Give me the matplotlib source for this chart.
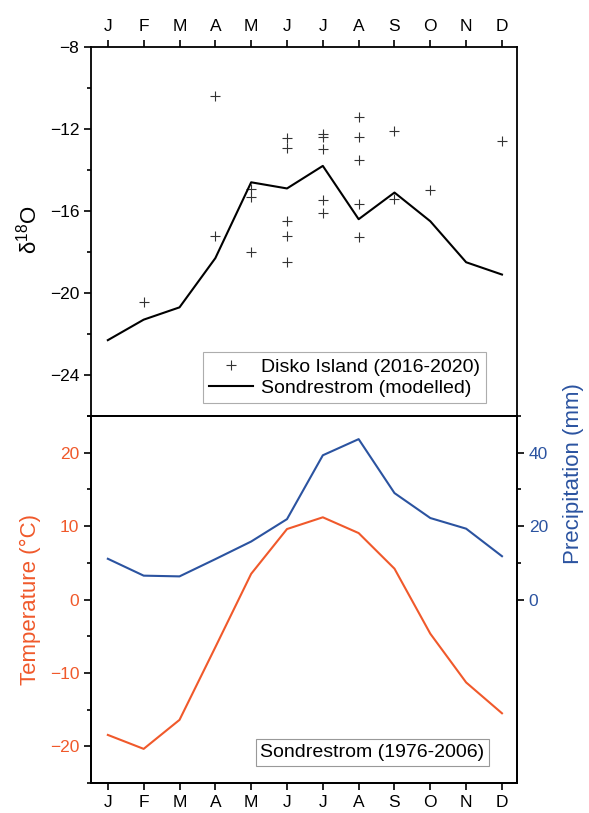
import matplotlib
matplotlib.use("Agg")
import matplotlib.pyplot as plt
from matplotlib.ticker import FixedLocator, MultipleLocator

plt.rcParams.update({
    "font.family": ["Liberation Sans", "DejaVu Sans"],
    "font.size": 12.5,
    "axes.linewidth": 1.3,
    "xtick.direction": "out",
    "ytick.direction": "out",
    "xtick.major.size": 5,
    "ytick.major.size": 5,
    "xtick.minor.size": 3,
    "ytick.minor.size": 3,
    "xtick.major.width": 1.2,
    "ytick.major.width": 1.2,
    "ytick.minor.width": 1.2,
})

# ---- data ----
months = ["J", "F", "M", "A", "M", "J", "J", "A", "S", "O", "N", "D"]
month_num = list(range(1, 13))

d18o_model = [-22.3, -21.3, -20.7, -18.3, -14.6, -14.9, -13.8, -16.4, -15.1, -16.5, -18.5, -19.1]

disko_month = [2, 4, 4, 5, 5, 5, 6, 6, 6, 6, 6, 7, 7, 7, 7, 7,
               8, 8, 8, 8, 8, 9, 9, 10, 12]
disko_d18o = [-20.45, -10.4, -17.2, -14.95, -15.3, -18.0,
              -12.45, -12.95, -16.5, -17.2, -18.5,
              -12.25, -12.4, -13.0, -15.45, -16.1,
              -11.4, -12.4, -13.5, -15.65, -17.25,
              -12.1, -15.4, -15.0, -12.6]

temperature = [-18.45, -20.35, -16.4, -6.5, 3.5, 9.6, 11.2, 9.05, 4.2, -4.66, -11.3, -15.5]
precip = [11.1, 6.5, 6.3, 11.0, 15.8, 21.9, 39.3, 43.7, 29.0, 22.2, 19.3, 11.8]

TEMP_C = "#f0592b"
PREC_C = "#2b53a0"

fig = plt.figure(figsize=(5.89, 8.13), dpi=100)
ax1 = fig.add_axes([0.1545, 0.4883, 0.7233, 0.4539])
ax2 = fig.add_axes([0.1545, 0.0369, 0.7233, 0.4514])
ax3 = ax2.twinx()

# ---- top panel: d18O ----
ax1.plot(disko_month, disko_d18o, "+", color="#333333", ms=7.5, mew=0.8,
         label="Disko Island (2016-2020)")
ax1.plot(month_num, d18o_model, color="black", lw=1.5,
         label="Sondrestrom (modelled)")
ax1.set_xlim(0.53, 12.42)
ax1.set_ylim(-26, -8)
ax1.xaxis.tick_top()
ax1.set_xticks(month_num)
ax1.set_xticklabels(months)
ax1.set_yticks([-24, -20, -16, -12, -8])
ax1.yaxis.set_minor_locator(MultipleLocator(2))
ax1.tick_params(axis="x", pad=4)

leg = ax1.legend(loc="lower right", bbox_to_anchor=(0.825, 0.5043),
                 bbox_transform=fig.transFigure, fontsize=14, frameon=True,
                 fancybox=False, edgecolor="#999999", handlelength=2.3,
                 handletextpad=0.4, borderpad=0.3, labelspacing=0.2,
                 borderaxespad=0)
leg.get_frame().set_linewidth(0.8)

# ---- bottom panel: temperature and precipitation ----
ax2.plot(month_num, temperature, color=TEMP_C, lw=1.5)
ax3.plot(month_num, precip, color=PREC_C, lw=1.5)
ax2.set_xlim(0.53, 12.42)
ax2.set_ylim(-25, 25)
ax3.set_ylim(-50, 50)
ax2.set_xticks(month_num)
ax2.set_xticklabels(months)
ax2.set_yticks([-20, -10, 0, 10, 20])
ax2.yaxis.set_minor_locator(MultipleLocator(5))
ax2.tick_params(axis="y", labelcolor=TEMP_C)
ax3.set_yticks([0, 20, 40])
ax3.yaxis.set_minor_locator(FixedLocator([10, 30, 50]))
ax3.tick_params(axis="y", labelcolor=PREC_C)

ax2.text(0.6324, 0.0744, "Sondrestrom (1976-2006)", transform=fig.transFigure,
         ha="center", va="center", fontsize=14,
         bbox=dict(boxstyle="square,pad=0.25", fc="white", ec="#999999", lw=0.8))

# axis labels
fig.text(0.048, 0.717, r"δ$^{\mathregular{18}}$O", rotation=90,
         ha="center", va="center", fontsize=16)
fig.text(0.051, 0.263, "Temperature (°C)", rotation=90, color=TEMP_C,
         ha="center", va="center", fontsize=16)
fig.text(0.973, 0.417, "Precipitation (mm)", rotation=90, color=PREC_C,
         ha="center", va="center", fontsize=16)

fig.savefig("out.png", dpi=100)
